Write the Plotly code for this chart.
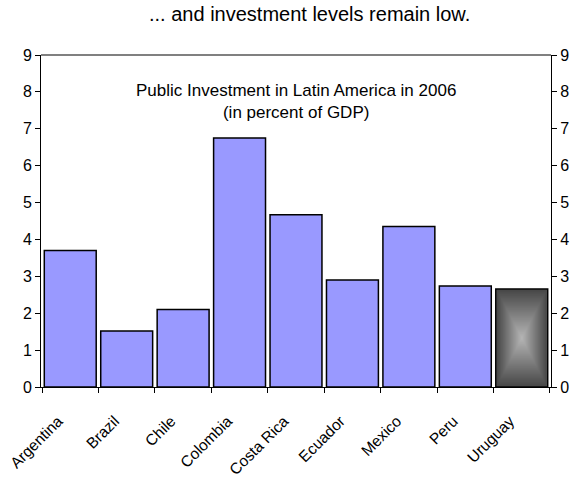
import base64, struct, zlib
import numpy as np
import plotly.graph_objects as go

countries = ["Argentina", "Brazil", "Chile", "Colombia", "Costa Rica",
             "Ecuador", "Mexico", "Peru", "Uruguay"]
investment = [3.70, 1.52, 2.10, 6.75, 4.67, 2.90, 4.35, 2.74, 2.66]
highlight = "Uruguay"
y_ticks = list(range(0, 10))

main_title = "... and investment levels remain low."
inner_title = "Public Investment in Latin America in 2006<br>(in percent of GDP)"

BAR_GAP = 0.08
FONT = "Liberation Sans, Arial, sans-serif"


def gradient_png(w=60, h=120):
    ys, xs = np.mgrid[0:h, 0:w]
    dx = np.abs((xs + 0.5) / w - 0.5) * 2
    dy = np.abs((ys + 0.5) / h - 0.5) * 2
    d = np.maximum(dx, dy)
    val = (182 - (182 - 72) * d).astype(np.uint8)
    raw = b"".join(b"\x00" + bytes(np.stack([r, r, r], axis=1).flatten()) for r in val)

    def chunk(t, data):
        c = struct.pack(">I", len(data)) + t + data
        return c + struct.pack(">I", zlib.crc32(t + data) & 0xffffffff)

    png = b"\x89PNG\r\n\x1a\n" + chunk(b"IHDR", struct.pack(">IIBBBBB", w, h, 8, 2, 0, 0, 0))
    png += chunk(b"IDAT", zlib.compress(raw)) + chunk(b"IEND", b"")
    return "data:image/png;base64," + base64.b64encode(png).decode()


colors = ["#555555" if c == highlight else "#9999FF" for c in countries]

fig = go.Figure()
fig.add_trace(go.Bar(
    x=countries, y=investment,
    marker=dict(color=colors, line=dict(color="black", width=1.5)),
    hoverinfo="x+y",
))
fig.add_trace(go.Scatter(x=countries, y=investment, yaxis="y2",
                         mode="markers", marker=dict(opacity=0),
                         showlegend=False, hoverinfo="skip"))

hi = countries.index(highlight)
bar_w = 1 - BAR_GAP
fig.add_layout_image(dict(
    source=gradient_png(), xref="x", yref="y",
    x=hi - bar_w / 2 + 0.02, y=investment[hi] - 0.03,
    sizex=bar_w - 0.04, sizey=investment[hi] - 0.06,
    sizing="stretch", xanchor="left", yanchor="top", layer="above",
))

axis_common = dict(range=[0, 9], tickvals=y_ticks, ticks="outside", ticklen=5,
                   tickcolor="black", showline=True, linecolor="black",
                   linewidth=1, showgrid=False, zeroline=False, automargin=False,
                   tickfont=dict(family=FONT, size=16, color="black"))

fig.update_layout(
    width=577, height=477,
    margin=dict(l=41, r=26, t=55, b=90),
    paper_bgcolor="white", plot_bgcolor="white",
    bargap=BAR_GAP, showlegend=False,
    font=dict(family=FONT, color="black"),
    xaxis=dict(type="category", ticks="outside", tickson="boundaries",
               ticklen=5, tickcolor="black", showline=True, linecolor="black",
               linewidth=1, tickangle=-45, showgrid=False, automargin=False,
               ticklabelshift=-12, ticklabelstandoff=18,
               tickfont=dict(family=FONT, size=15.5, color="black")),
    yaxis=axis_common,
    yaxis2=dict(axis_common, overlaying="y", side="right"),
    shapes=[dict(type="line", xref="paper", yref="paper", x0=0, x1=1, y0=1, y1=1,
                 line=dict(color="#808080", width=2))],
    annotations=[
        dict(text=main_title, xref="paper", yref="paper", x=0.526, y=1,
             xanchor="center", yanchor="middle", yshift=41, showarrow=False,
             font=dict(family=FONT, size=20)),
        dict(text=inner_title, xref="paper", yref="paper", x=0.5, y=0.861,
             xanchor="center", yanchor="middle", showarrow=False,
             font=dict(family=FONT, size=17)),
    ],
)

fig.write_html("out.html", config={"displayModeBar": False},
               post_script="document.body.style.margin='0';document.body.style.overflow='hidden';")
